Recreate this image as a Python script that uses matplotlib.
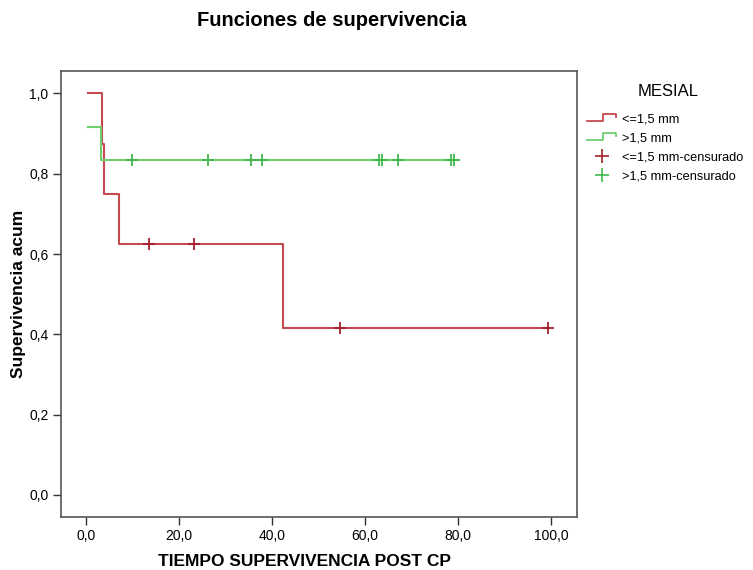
import matplotlib
matplotlib.use("Agg")
import matplotlib.pyplot as plt
from matplotlib.lines import Line2D
from matplotlib.legend_handler import HandlerBase

plt.rcParams['font.family'] = ['Liberation Sans', 'DejaVu Sans']

# datos (Kaplan-Meier, MESIAL)
red_times = [0.5, 3.5, 3.9, 7.0, 42.3, 99.5]
red_surv = [1.0, 0.875, 0.75, 0.625, 0.4167, 0.4167]
red_cens_t = [13.6, 23.2, 54.7, 99.3]
red_cens_s = [0.625, 0.625, 0.4167, 0.4167]

green_times = [0.5, 3.1, 79.9]
green_surv = [0.9167, 0.8333, 0.8333]
green_cens_t = [9.9, 26.2, 35.5, 37.8, 63.0, 63.7, 67.2, 78.5, 79.2]
green_cens_s = [0.8333] * len(green_cens_t)

labels = ["<=1,5 mm", ">1,5 mm", "<=1,5 mm-censurado", ">1,5 mm-censurado"]
x_ticks = [0, 20, 40, 60, 80, 100]
y_ticks = [0.0, 0.2, 0.4, 0.6, 0.8, 1.0]

red = "#c44a50"
red_dark = "#a3222c"
green = "#6fcf6f"
green_dark = "#3fb84a"


class StepHandler(HandlerBase):
    # dibuja el simbolo escalonado de SPSS en la leyenda
    def create_artists(self, legend, orig_handle, xdescent, ydescent,
                       width, height, fontsize, trans):
        x0, x1 = -xdescent, -xdescent + width
        xm = x0 + width * 0.55
        yb, yt = -ydescent + height * 0.1, -ydescent + height * 0.95
        ln = Line2D([x0, xm, xm, x1, x1], [yb, yb, yt, yt, yt - height * 0.4],
                    color=orig_handle.get_color(), lw=1.3, transform=trans)
        return [ln]


fig = plt.figure(figsize=(7.53, 5.70), dpi=100)
ax = fig.add_axes([61 / 753, 53 / 570, 516 / 753, 446 / 570])

ax.step(red_times, red_surv, where="post", color=red, lw=1.5)
ax.step(green_times, green_surv, where="post", color=green, lw=1.5)
ax.plot(red_cens_t, red_cens_s, ls="none", marker="+", ms=8, mew=1.3, color=red_dark)
ax.plot(green_cens_t, green_cens_s, ls="none", marker="+", ms=8, mew=1.3, color=green_dark)

ax.set_xlim(-5.4, 105.6)
ax.set_ylim(-0.055, 1.056)
ax.set_xticks(x_ticks)
ax.set_xticklabels([f"{v:.1f}".replace(".", ",") for v in x_ticks])
ax.set_yticks(y_ticks)
ax.set_yticklabels([f"{v:.1f}".replace(".", ",") for v in y_ticks])
ax.tick_params(direction="out", length=6, width=1, labelsize=10, colors="#333333",
               labelcolor="black", pad=3)
for sp in ax.spines.values():
    sp.set_color("#555555")
    sp.set_linewidth(1.2)

fig.text(305 / 753, 1 - 562 / 570, "TIEMPO SUPERVIVENCIA POST CP", fontsize=12.5,
         fontweight="bold", ha="center", va="center")
fig.text(19 / 753, 1 - 294 / 570, "Supervivencia acum", fontsize=12.5,
         fontweight="bold", ha="center", va="center", rotation=90)
fig.text(332 / 753, 1 - 21 / 570, "Funciones de supervivencia",
         fontsize=14.5, fontweight="bold", ha="center", va="center")
fig.text(668 / 753, 1 - 91 / 570, "MESIAL", fontsize=12, ha="center", va="center")

handles = [
    Line2D([], [], color=red),
    Line2D([], [], color=green),
    Line2D([], [], ls="none", marker="+", ms=10, mew=1.2, color=red_dark),
    Line2D([], [], ls="none", marker="+", ms=10, mew=1.2, color=green_dark),
]
leg = fig.legend(handles, labels, loc="upper left",
                 bbox_to_anchor=(587 / 753, 1 - 113 / 570), frameon=False,
                 borderpad=0, borderaxespad=0,
                 fontsize=9.2, handlelength=2.3,
                 handletextpad=0.4, labelspacing=0.55,
                 handler_map={handles[0]: StepHandler(), handles[1]: StepHandler()})

fig.savefig("out.png", dpi=100)
